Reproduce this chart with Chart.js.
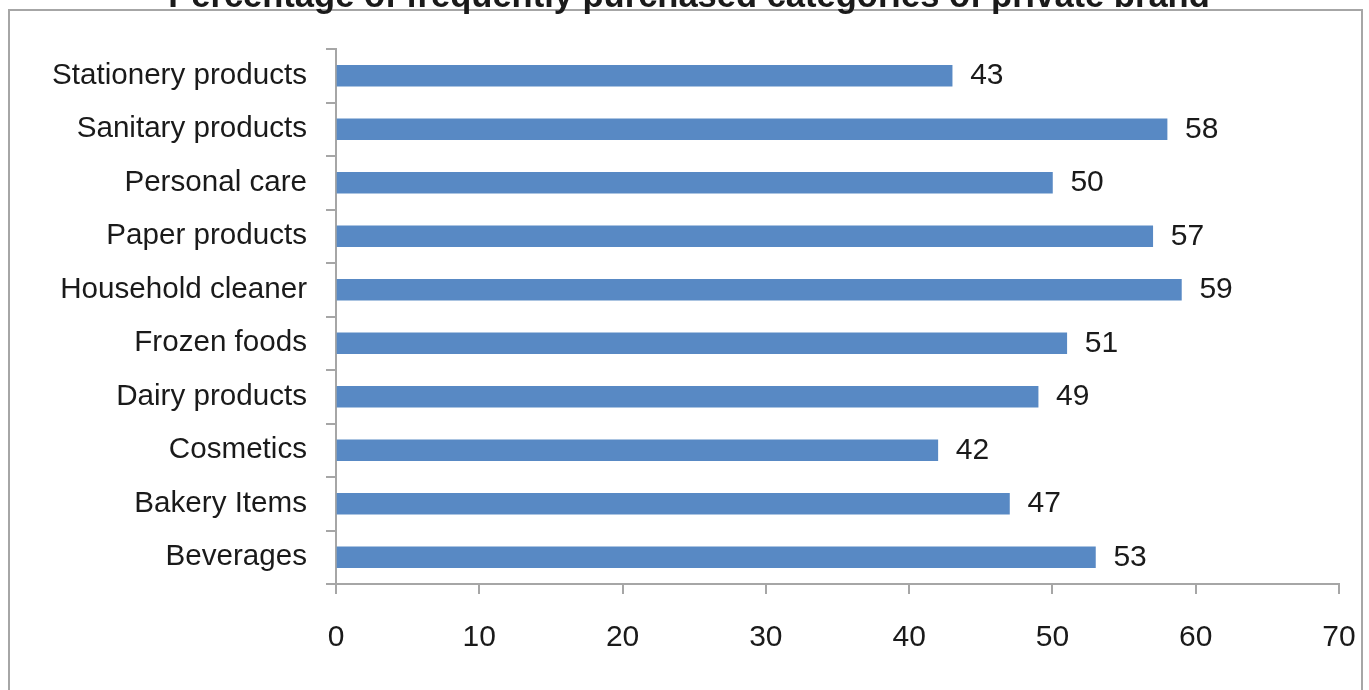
<!DOCTYPE html>
<html>
<head>
<meta charset="utf-8">
<script src="https://cdn.jsdelivr.net/npm/chart.js@4.4.0/dist/chart.umd.min.js"></script>
<style>
  html, body { margin: 0; padding: 0; background: #ffffff; overflow: hidden; }
  #wrap { position: relative; width: 1369px; height: 690px; }
  canvas { display: block; }
</style>
</head>
<body>
<div id="wrap"><canvas id="c" width="1369" height="690"></canvas></div>
<script>
const titleText = "Percentage of frequently purchased categories of private brand";
const categories = [
  "Stationery products",
  "Sanitary products",
  "Personal care",
  "Paper products",
  "Household cleaner",
  "Frozen foods",
  "Dairy products",
  "Cosmetics",
  "Bakery Items",
  "Beverages"
];
const values = [43, 58, 50, 57, 59, 51, 49, 42, 47, 53];
const xTicks = [0, 10, 20, 30, 40, 50, 60, 70];

const FONT = '"Liberation Sans", Arial, Helvetica, sans-serif';
const TEXT = '#1a1a1a';
const AXIS = '#a6a6a6';

const frameAndTitle = {
  id: 'frameAndTitle',
  beforeDraw(chart) {
    const ctx = chart.ctx;
    ctx.save();
    ctx.strokeStyle = AXIS;
    ctx.lineWidth = 2;
    ctx.strokeRect(9, 10, 1353, 700);
    ctx.restore();
  },
  afterDraw(chart) {
    const ctx = chart.ctx;
    ctx.save();
    ctx.font = 'bold 30px ' + FONT;
    const w = ctx.measureText(titleText).width;
    const size = 30 * 1042 / w;
    ctx.font = 'bold ' + size.toFixed(2) + 'px ' + FONT;
    ctx.fillStyle = TEXT;
    ctx.textAlign = 'center';
    ctx.textBaseline = 'alphabetic';
    ctx.fillText(titleText, 689, 7);
    ctx.restore();
  }
};

const valueLabels = {
  id: 'valueLabels',
  afterDatasetsDraw(chart) {
    const ctx = chart.ctx;
    const meta = chart.getDatasetMeta(0);
    ctx.save();
    ctx.font = '30px ' + FONT;
    ctx.fillStyle = TEXT;
    ctx.textAlign = 'left';
    ctx.textBaseline = 'middle';
    meta.data.forEach((bar, i) => {
      ctx.fillText(String(values[i]), bar.x + 18, bar.y);
    });
    ctx.restore();
  }
};

new Chart(document.getElementById('c'), {
  type: 'bar',
  data: {
    labels: categories,
    datasets: [{
      data: values,
      backgroundColor: '#5889C4',
      borderWidth: 0,
      barThickness: 21
    }]
  },
  options: {
    indexAxis: 'y',
    responsive: false,
    animation: false,
    devicePixelRatio: 1,
    layout: { padding: { left: 0, top: 49, right: 30, bottom: 0 } },
    plugins: {
      legend: { display: false },
      title: { display: false },
      tooltip: { enabled: false }
    },
    scales: {
      y: {
        type: 'category',
        grid: {
          drawOnChartArea: false,
          offset: true,
          tickLength: 10,
          color: AXIS,
          lineWidth: 2
        },
        border: { color: AXIS, width: 2 },
        ticks: {
          color: TEXT,
          font: { family: FONT, size: 29.6 },
          padding: 19
        },
        afterFit(scale) { scale.width = 336; scale.paddingTop = 0; scale.paddingBottom = 0; }
      },
      x: {
        min: 0,
        max: 70,
        afterBuildTicks(scale) { scale.ticks = xTicks.map(v => ({ value: v })); },
        grid: {
          drawOnChartArea: false,
          tickLength: 10,
          color: AXIS,
          lineWidth: 2
        },
        border: { color: AXIS, width: 2 },
        ticks: {
          color: TEXT,
          font: { family: FONT, size: 30 },
          padding: 26,
          maxRotation: 0
        },
        afterFit(scale) { scale.height = 106; scale.paddingLeft = 0; scale.paddingRight = 0; }
      }
    }
  },
  plugins: [frameAndTitle, valueLabels]
});
</script>
</body>
</html>
